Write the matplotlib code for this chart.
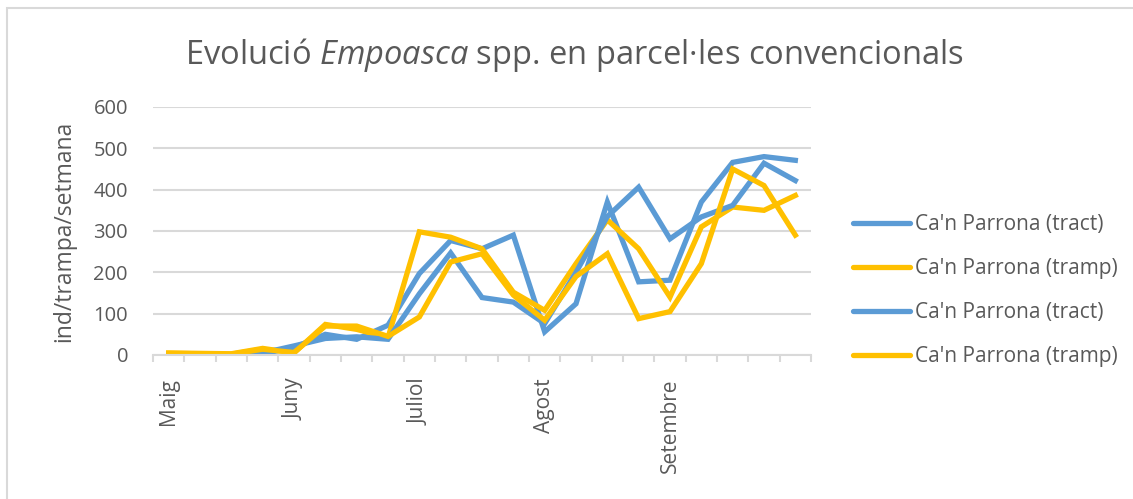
import numpy as np
import matplotlib.pyplot as plt
from matplotlib.patches import Rectangle

plt.rcParams['font.family'] = ['Open Sans', 'DejaVu Sans']
plt.rcParams['mathtext.fontset'] = 'custom'
plt.rcParams['mathtext.rm'] = 'Open Sans'
plt.rcParams['mathtext.it'] = 'Open Sans:italic'

# weekly categories, month name on the first week of each month
weeks = ['Maig', '', '', '', 'Juny', '', '', '', 'Juliol', '', '', '',
         'Agost', '', '', '', 'Setembre', '', '', '', '']

tract_1 = [2, 1, 0, 3, 18, 50, 38, 72, 197, 277, 257, 290, 56, 124, 370, 177, 181, 370, 466, 480, 471]
tramp_1 = [5, 4, 3, 16, 5, 74, 62, 42, 298, 285, 257, 152, 108, 221, 327, 257, 140, 310, 358, 350, 386]
tract_2 = [1, 1, 0, 5, 22, 40, 44, 38, 148, 247, 139, 128, 76, 200, 335, 406, 281, 334, 362, 464, 422]
tramp_2 = [4, 3, 2, 14, 6, 70, 70, 45, 92, 225, 245, 145, 84, 190, 245, 88, 105, 221, 450, 410, 290]

series = [('Ca\'n Parrona (tract)', tract_1, '#5B9BD5'),
          ('Ca\'n Parrona (tramp)', tramp_1, '#FFC000'),
          ('Ca\'n Parrona (tract)', tract_2, '#5B9BD5'),
          ('Ca\'n Parrona (tramp)', tramp_2, '#FFC000')]

grey = '#595959'
grid = '#D9D9D9'

fig = plt.figure(figsize=(11.33, 4.99), dpi=100)
ax = fig.add_axes([153 / 1133, 1 - 355 / 499, 658 / 1133, 248 / 499])

x = np.arange(len(weeks))
for name, vals, col in series:
    ax.plot(x, vals, color=col, lw=3.8, label=name, solid_joinstyle='miter')

ax.set_xlim(-0.5, len(weeks) - 0.5)
ax.set_ylim(0, 600)
ax.set_yticks(range(0, 601, 100))
ax.yaxis.grid(True, color=grid, lw=1.5)
ax.set_axisbelow(True)

ax.set_xticks(x)
ax.set_xticklabels(weeks, rotation=90, va='top', ha='center')
ax.set_xticks(np.arange(-0.5, len(weeks)), minor=True)
ax.tick_params(axis='x', which='major', length=0, pad=17, labelsize=15, labelcolor=grey)
ax.tick_params(axis='x', which='minor', length=5, width=1.5, color=grid, direction='out')
ax.tick_params(axis='y', length=0, pad=18, labelsize=14.5, labelcolor=grey)

for s in ['top', 'right', 'left']:
    ax.spines[s].set_visible(False)
ax.spines['bottom'].set_color(grid)
ax.spines['bottom'].set_linewidth(1.5)

ax.set_ylabel('ind/trampa/setmana', fontsize=16.5, color=grey, labelpad=12)

fig.text(574 / 1133, 1 - 55 / 499,
         r'Evolució $\mathit{Empoasca}$ spp. en parcel·les convencionals',
         ha='center', va='center', fontsize=23.5, color=grey)

leg = fig.legend(loc='upper left', bbox_to_anchor=(843 / 1133, 1 - 204 / 499),
                 frameon=False, fontsize=15, handlelength=2.7, handletextpad=0.25,
                 labelspacing=1.1, borderpad=0)
for t in leg.get_texts():
    t.set_color(grey)
for h in leg.legend_handles:
    h.set_linewidth(3.8)
    h.set_solid_capstyle('round')

fig.patches.append(Rectangle((6.5 / 1133, -0.1), 1.2, 1.1 - 8 / 499, transform=fig.transFigure,
                             fill=False, edgecolor=grid, lw=1.5))

fig.savefig('out.png', dpi=100)
